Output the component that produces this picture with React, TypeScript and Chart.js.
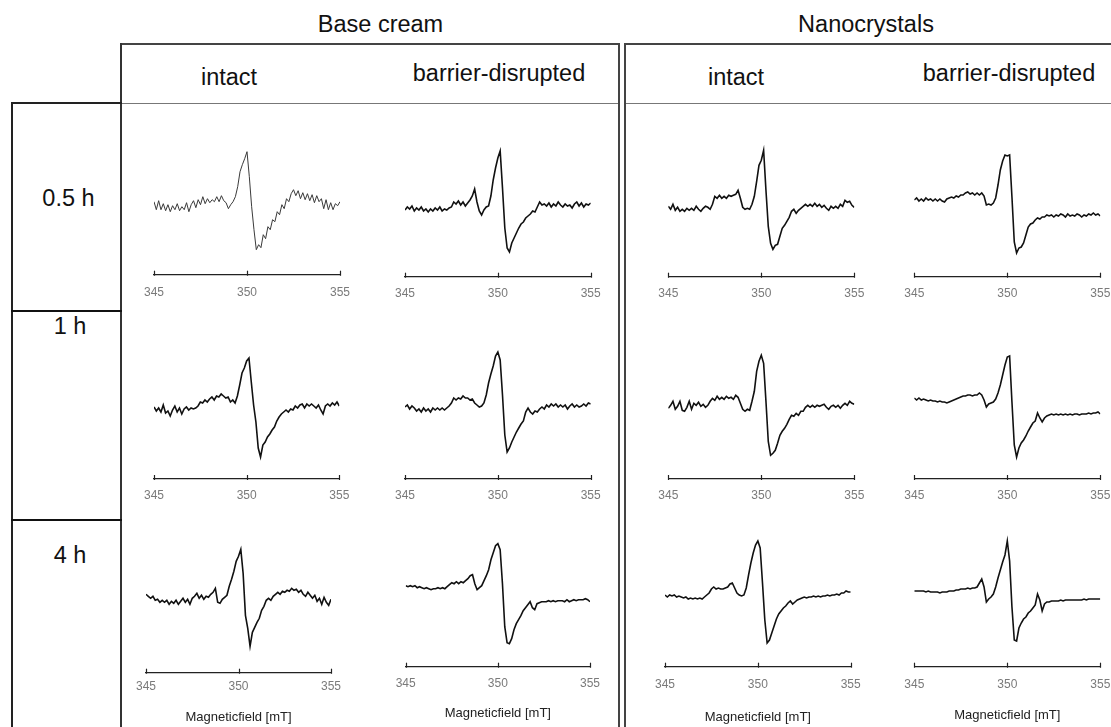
import React, { useEffect, useRef } from "react";
import { Chart, registerables } from "chart.js";

Chart.register(...registerables);

// Magnetic field sampling (mT)
const FIELD_MT = [345, 345.125, 345.25, 345.375, 345.5, 345.625, 345.75, 345.875, 346, 346.125, 346.25, 346.375, 346.5, 346.625, 346.75, 346.875, 347, 347.125, 347.25, 347.375, 347.5, 347.625, 347.75, 347.875, 348, 348.125, 348.25, 348.375, 348.5, 348.625, 348.75, 348.875, 349, 349.125, 349.25, 349.375, 349.5, 349.625, 349.75, 349.875, 350, 350.125, 350.25, 350.375, 350.5, 350.625, 350.75, 350.875, 351, 351.125, 351.25, 351.375, 351.5, 351.625, 351.75, 351.875, 352, 352.125, 352.25, 352.375, 352.5, 352.625, 352.75, 352.875, 353, 353.125, 353.25, 353.375, 353.5, 353.625, 353.75, 353.875, 354, 354.125, 354.25, 354.375, 354.5, 354.625, 354.75, 354.875, 355];
const FIELD_TICKS = [345, 350, 355];

// EPR signal intensity (a.u.)
const BASE_INTACT_05H = [5, -3, 6, -3, 3, -4, 2, -5, 1, -3, 3, -4, 0, -3, 4, -5, 2, 6, -1, 7, 2, 10, 3, 8, 4, 7, 5, 10, 5, 11, 6, 4, -2, 2, 5, 10, 20, 35, 42, 48, 55, 30, 0, -23, -43, -38, -41, -28, -32, -20, -23, -13, -15, -5, -8, 2, -2, 8, 5, 13, 17, 11, 16, 8, 14, 7, 13, 6, 12, 4, 11, 5, 8, -2, 7, -3, 4, -3, 3, 1, 5];
const BASE_DISRUPTED_05H = [-2, 1, -1, 2, -3, 0, -2, 1, -3, -1, -4, -1, -3, 0, -2, 1, -3, -1, -2, 0, 1, 6, 4, 7, 3, 6, 2, 5, 8, 12, 19, 6, -3, -7, -2, 1, 2, 12, 28, 40, 50, 57, 20, -20, -40, -44, -35, -30, -25, -20, -16, -14, -10, -8, -6, -3, -4, 1, 6, 3, 4, 2, 5, 1, 4, 2, 6, 3, 1, 4, 2, 3, 0, 4, 6, 2, 5, 1, 4, 3, 5];
const NANO_INTACT_05H = [1, -2, 3, -3, 0, -4, -2, -4, -1, -3, -1, -3, 1, -2, -4, -1, 1, 0, -2, 3, 11, 9, 12, 9, 11, 9, 12, 11, 12, 13, 17, 9, 0, -2, -1, -2, 3, 11, 26, 42, 47, 57, 17, -19, -36, -42, -38, -37, -29, -21, -18, -14, -10, -4, -2, -6, -3, -1, 1, 3, 1, 3, 1, 4, 1, 3, 0, 2, -1, -3, 1, -1, 1, -1, 3, 1, 7, 5, 6, 2, 0];
const NANO_DISRUPTED_05H = [0, 2, -1, 1, -1, 2, 0, 1, -1, 1, -1, 1, -1, -2, 1, 2, 3, 2, 4, 3, 5, 5, 7, 8, 6, 7, 5, 7, 5, 7, 4, -5, -4, -5, -3, 2, 15, 30, 39, 45, 44, 45, 3, -42, -53, -48, -47, -43, -35, -27, -24, -23, -20, -18, -19, -17, -17, -15, -16, -15, -17, -15, -16, -14, -15, -17, -14, -16, -15, -16, -14, -15, -17, -15, -16, -14, -15, -13, -15, -14, -16];
const BASE_INTACT_1H = [3, -1, 2, -2, 5, -3, -1, -6, 0, 4, -2, 2, -4, 1, 3, 0, 2, 1, 2, 4, 8, 7, 10, 8, 11, 13, 10, 14, 13, 16, 14, 12, 13, 8, 10, 7, 14, 25, 37, 42, 49, 52, 28, 5, -12, -38, -47, -35, -32, -27, -24, -20, -17, -11, -7, -4, -2, 0, -2, 1, 0, 4, 2, 5, 6, 2, 6, 4, 6, 4, 2, 5, 0, -4, 4, 6, 4, 7, 5, 8, 4];
const BASE_DISRUPTED_1H = [2, 4, 0, 3, 1, -2, 0, -3, 1, -2, 0, -3, 1, -1, 1, -1, 1, -1, 1, 3, 6, 11, 9, 11, 10, 13, 11, 11, 9, 10, 6, 4, 2, 3, 6, 14, 26, 35, 43, 53, 57, 49, 14, -26, -43, -39, -33, -28, -23, -19, -15, -12, -3, 1, -3, -5, -2, -3, 0, 2, 0, 4, 2, 5, 3, 5, 2, 4, 2, 4, 0, 3, 5, 2, 4, 2, 3, 5, 3, 6, 5];
const NANO_INTACT_1H = [0, 3, 7, -1, 2, 7, -2, -3, 1, 7, -1, 5, 3, 6, 2, 4, 1, 3, 7, 10, 8, 12, 9, 11, 9, 12, 10, 11, 9, 13, 11, 5, -1, -3, -1, -2, 7, 17, 37, 47, 53, 45, 7, -33, -47, -45, -42, -35, -27, -23, -20, -16, -11, -7, -8, -5, -7, -3, -3, 1, 3, 1, 3, 1, 3, 2, 3, 4, 1, -1, 2, 3, 1, 3, 0, 3, 5, 3, 7, 5, 4];
const NANO_DISRUPTED_1H = [2, 0, 2, 0, 1, 0, -1, 0, -1, -1, -2, -1, -2, -2, -3, -2, -1, 0, 1, 2, 3, 4, 4, 5, 5, 4, 5, 5, 7, 5, 0, -7, -4, -3, -2, 1, 7, 15, 25, 35, 43, 44, -2, -45, -57, -48, -43, -40, -36, -31, -27, -23, -21, -13, -18, -22, -18, -16, -15, -14, -15, -14, -15, -14, -15, -14, -15, -14, -15, -14, -14, -15, -14, -14, -14, -13, -14, -13, -13, -12, -14];
const BASE_INTACT_4H = [4, 2, 0, 2, -2, -1, -4, -2, -4, -2, -6, -3, -5, -2, -6, -3, 0, -4, -1, -6, 0, 2, 5, 0, 3, -1, 2, 1, 4, 6, 10, -4, -5, -1, 1, 3, 12, 19, 27, 37, 42, 49, 25, -17, -30, -48, -34, -29, -24, -20, -12, -8, -2, 0, -2, 2, 4, 6, 4, 7, 6, 8, 7, 10, 8, 9, 6, 8, 4, 2, 6, 3, 0, 3, -3, 0, -6, 1, -4, -7, -1];
const BASE_DISRUPTED_4H = [1, 0, 1, 0, 1, -1, 0, -1, -2, -1, -2, -3, -2, -2, -1, -2, -1, -2, 0, 2, 4, 3, 5, 3, 5, 4, 6, 8, 11, 12, 3, -3, -1, 1, 6, 11, 17, 27, 34, 41, 43, 37, 3, -40, -56, -57, -52, -43, -37, -33, -29, -24, -21, -18, -15, -21, -23, -17, -16, -15, -15, -15, -14, -15, -14, -15, -14, -14, -14, -15, -13, -15, -14, -13, -14, -13, -13, -13, -12, -13, -15];
const NANO_INTACT_4H = [1, -1, 1, 0, 1, -1, 0, -1, -2, -1, -3, -2, -3, -2, -3, -2, -3, -1, 1, 3, 7, 9, 7, 8, 7, 7, 8, 9, 12, 13, 8, 3, 1, 0, 1, 8, 21, 33, 43, 51, 55, 48, 13, -24, -47, -44, -37, -30, -23, -18, -15, -12, -10, -7, -5, -8, -6, -4, -3, -2, -1, -2, -1, -1, 0, -1, 0, -1, 0, 0, 1, 0, 1, 1, 2, 1, 3, 3, 5, 4, 4];
const NANO_DISRUPTED_4H = [0, 0, 0, 0, 0, -1, 0, -1, -1, -1, -1, -2, -1, -1, -1, 0, 0, 0, 1, 1, 2, 2, 2, 3, 2, 3, 3, 4, 8, 12, 4, -11, -8, -6, -3, 4, 13, 21, 29, 36, 50, 30, -16, -49, -50, -37, -32, -28, -26, -22, -20, -17, -14, -3, -9, -20, -13, -11, -11, -10, -10, -10, -10, -9, -10, -9, -9, -9, -9, -9, -9, -9, -9, -8, -9, -8, -8, -8, -8, -8, -8];

const GROUP_LABELS = ["Base cream", "Nanocrystals"];
const SKIN_LABELS = ["intact", "barrier-disrupted"];
const TIME_LABELS = ["0.5 h", "1 h", "4 h"];
const AXIS_TITLE = "Magneticfield [mT]";

const FONT = '"Liberation Sans", Arial, Helvetica, sans-serif';

// layout of each panel (pixels) — x0/x1: position of 345/355 mT, axisY: axis line, base: baseline level
const PANELS = [
  { data: BASE_INTACT_05H, x0: 154, x1: 340, axisY: 274.7, base: 206.7, top: 118, labelDy: 18, thin: true },
  { data: BASE_DISRUPTED_05H, x0: 405, x1: 590.7, axisY: 276.7, base: 208, top: 118, labelDy: 16.7 },
  { data: NANO_INTACT_05H, x0: 668.3, x1: 854.3, axisY: 276.7, base: 207.3, top: 118, labelDy: 16.7 },
  { data: NANO_DISRUPTED_05H, x0: 914.3, x1: 1100.3, axisY: 276.7, base: 200, top: 118, labelDy: 16.7 },
  { data: BASE_INTACT_1H, x0: 154, x1: 339.3, axisY: 479, base: 410, top: 325, labelDy: 16.5 },
  { data: BASE_DISRUPTED_1H, x0: 405, x1: 590.7, axisY: 479, base: 409, top: 325, labelDy: 16.5 },
  { data: NANO_INTACT_1H, x0: 668.3, x1: 854.3, axisY: 479, base: 408.3, top: 325, labelDy: 16.5 },
  { data: NANO_DISRUPTED_1H, x0: 914.3, x1: 1100.3, axisY: 479, base: 400, top: 325, labelDy: 16.5 },
  { data: BASE_INTACT_4H, x0: 146, x1: 331, axisY: 672.7, base: 598.3, top: 525, labelDy: 14, titleDy: 44.6 },
  { data: BASE_DISRUPTED_4H, x0: 405.7, x1: 590, axisY: 666.7, base: 586.7, top: 525, labelDy: 16.7, titleDy: 46.6 },
  { data: NANO_INTACT_4H, x0: 665, x1: 850.7, axisY: 666.7, base: 596, top: 525, labelDy: 17.6, titleDy: 51 },
  { data: NANO_DISRUPTED_4H, x0: 914.3, x1: 1100.3, axisY: 666.7, base: 591, top: 525, labelDy: 17.6, titleDy: 49 },
];

const upTicks = {
  id: "upTicks",
  afterDraw(chart: any) {
    const s = chart.scales.x;
    const ctx = chart.ctx;
    ctx.save();
    ctx.strokeStyle = "#222";
    ctx.lineWidth = 1.2;
    s.ticks.forEach((t: any) => {
      const px = Math.round(s.getPixelForValue(t.value)) + 0.5;
      ctx.beginPath();
      ctx.moveTo(px, s.top - 4);
      ctx.lineTo(px, s.top + 1);
      ctx.stroke();
    });
    ctx.restore();
  },
};

function Panel({ p }: { p: any }) {
  const ref = useRef<HTMLCanvasElement | null>(null);
  const left = Math.floor(p.x0) - 22;
  const width = Math.ceil(p.x1) + 22 - left;
  const padLeft = p.x0 - left;
  const padRight = width - (p.x1 - left);
  const tickFont = 12;
  const tickLH = tickFont * 1.2;
  const tickPad = p.labelDy - tickLH / 2;
  const titleFont = 13;
  const titleLH = titleFont * 1.2;
  const hasTitle = p.titleDy !== undefined;
  const titlePadTop = hasTitle ? p.titleDy - tickLH - 2 * tickPad - titleLH / 2 : 0;
  const axisH = tickLH + 2 * tickPad + (hasTitle ? titleLH + titlePadTop : 0);
  const areaH = p.axisY - p.top;
  const height = Math.ceil(areaH + axisH) + 1;
  const padBottom = height - areaH - axisH;

  useEffect(() => {
    const chart = new Chart(ref.current as HTMLCanvasElement, {
      type: "line",
      data: {
        datasets: [
          {
            data: FIELD_MT.map((x, i) => ({ x, y: p.data[i] })),
            borderColor: p.thin ? "#3a3a3a" : "#111",
            borderWidth: p.thin ? 1 : 1.6,
            pointRadius: 0,
            tension: 0,
            fill: false,
          },
        ],
      },
      options: {
        responsive: false,
        animation: false,
        devicePixelRatio: 1,
        layout: { padding: { left: padLeft, right: padRight, top: 0, bottom: padBottom } },
        plugins: { legend: { display: false }, tooltip: { enabled: false }, title: { display: false } },
        scales: {
          x: {
            type: "linear",
            min: FIELD_TICKS[0],
            max: FIELD_TICKS[FIELD_TICKS.length - 1],
            afterBuildTicks: (s: any) => {
              s.ticks = FIELD_TICKS.map((v) => ({ value: v }));
            },
            grid: { display: false, drawTicks: false },
            border: { display: true, color: "#222", width: 1.3 },
            ticks: {
              padding: tickPad,
              maxRotation: 0,
              autoSkip: false,
              color: "#7a7a7a",
              font: { family: FONT, size: tickFont },
            },
            title: hasTitle
              ? {
                  display: true,
                  text: AXIS_TITLE,
                  color: "#222",
                  font: { family: FONT, size: titleFont },
                  padding: { top: titlePadTop, bottom: 0 },
                }
              : { display: false },
          },
          y: {
            type: "linear",
            display: false,
            min: p.base - p.axisY,
            max: p.base - p.top,
          },
        },
      },
      plugins: [upTicks],
    });
    return () => chart.destroy();
  }, []);

  return (
    <canvas
      ref={ref}
      width={width}
      height={height}
      style={{ position: "absolute", left, top: p.top, width, height }}
    />
  );
}

const LINES = [
  { x: 121, y: 43, w: 498, h: 2, c: "#444" },
  { x: 625, y: 43, w: 486, h: 2, c: "#444" },
  { x: 121, y: 103, w: 498, h: 1, c: "#777" },
  { x: 625, y: 103, w: 486, h: 1, c: "#777" },
  { x: 120, y: 43, w: 2, h: 684, c: "#333" },
  { x: 618, y: 43, w: 2, h: 684, c: "#444" },
  { x: 624, y: 43, w: 2, h: 684, c: "#444" },
  { x: 11, y: 102, w: 2, h: 625, c: "#222" },
  { x: 11, y: 102, w: 111, h: 2, c: "#222" },
  { x: 11, y: 310, w: 111, h: 2, c: "#111" },
  { x: 11, y: 519, w: 111, h: 2, c: "#111" },
];

const TEXTS = [
  { t: GROUP_LABELS[0], x: 380.5, y: 25 },
  { t: GROUP_LABELS[1], x: 866, y: 25 },
  { t: SKIN_LABELS[0], x: 229, y: 77.5 },
  { t: SKIN_LABELS[1], x: 499, y: 74 },
  { t: SKIN_LABELS[0], x: 736, y: 77.5 },
  { t: SKIN_LABELS[1], x: 1009, y: 74 },
  { t: TIME_LABELS[0], x: 68.5, y: 199 },
  { t: TIME_LABELS[1], x: 70, y: 327 },
  { t: TIME_LABELS[2], x: 70, y: 556 },
];

export default function App() {
  return (
    <div
      style={{
        position: "absolute",
        left: 0,
        top: 0,
        width: 1111,
        height: 727,
        background: "#fff",
        overflow: "hidden",
        fontFamily: FONT,
      }}
    >
      {LINES.map((l, i) => (
        <div
          key={"l" + i}
          style={{ position: "absolute", left: l.x, top: l.y, width: l.w, height: l.h, background: l.c }}
        />
      ))}
      {TEXTS.map((t, i) => (
        <div
          key={"t" + i}
          style={{
            position: "absolute",
            left: t.x,
            top: t.y,
            transform: "translate(-50%, -50%)",
            fontSize: 23.5,
            lineHeight: 1,
            color: "#111",
            whiteSpace: "nowrap",
          }}
        >
          {t.t}
        </div>
      ))}
      {PANELS.map((p, i) => (
        <Panel key={"p" + i} p={p} />
      ))}
    </div>
  );
}
